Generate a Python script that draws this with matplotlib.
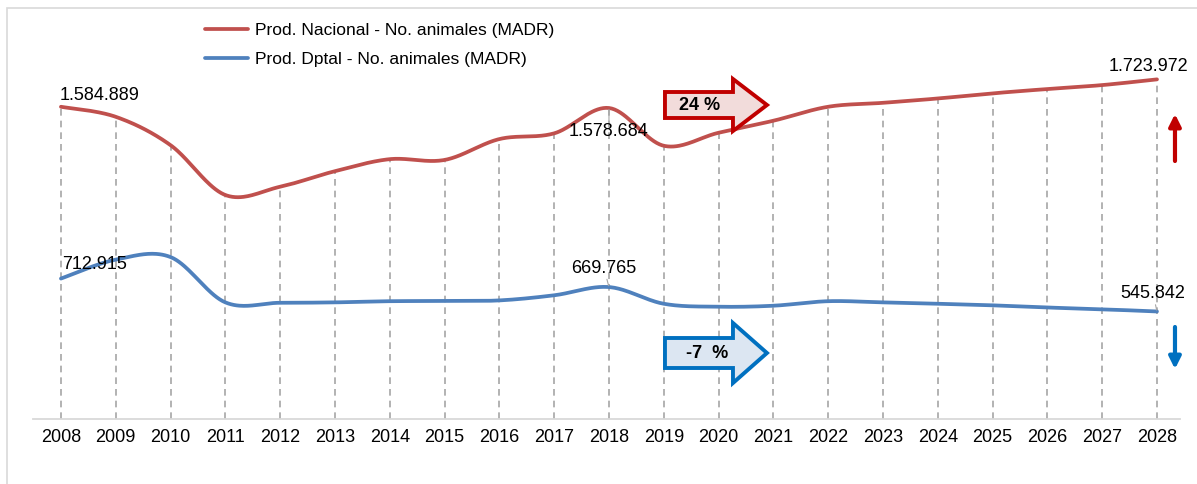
import numpy as np
import matplotlib.pyplot as plt
from matplotlib.patches import FancyArrow, Rectangle

plt.rcParams["font.family"] = ["Liberation Sans", "DejaVu Sans"]

years = list(range(2008, 2029))
nacional = [1584889, 1534000, 1390000, 1137000, 1179000, 1258000, 1319000,
            1315000, 1421000, 1450000, 1578684, 1387000, 1453000, 1514000,
            1585000, 1605000, 1627000, 1653000, 1675000, 1695000, 1723972]
dptal = [712915, 809000, 822000, 592000, 590000, 592000, 598000,
         599000, 602000, 628000, 669765, 585000, 570000, 575000,
         598000, 592000, 585000, 577000, 566000, 557000, 545842]
label_nac = "Prod. Nacional - No. animales (MADR)"
label_dpt = "Prod. Dptal - No. animales (MADR)"
red = "#c0504d"
blue = "#4f81bd"


def smooth(x, y, n=40):
    # Excel-like smoothed line (bezier, catmull-rom control points)
    x = np.asarray(x, float)
    y = np.asarray(y, float)
    t = np.linspace(0, 1, n)[:, None]
    pts = np.column_stack([x, y])
    out = []
    for i in range(len(pts) - 1):
        p0, p3 = pts[i], pts[i + 1]
        prev = pts[i - 1] if i > 0 else pts[i]
        nxt = pts[i + 2] if i + 2 < len(pts) else pts[i + 1]
        c1 = p0 + (p3 - prev) / 6
        c2 = p3 - (nxt - p0) / 6
        seg = ((1 - t) ** 3) * p0 + 3 * ((1 - t) ** 2) * t * c1 \
            + 3 * (1 - t) * t ** 2 * c2 + t ** 3 * p3
        out.append(seg if i == 0 else seg[1:])
    out = np.vstack(out)
    return out[:, 0], out[:, 1]


fig = plt.figure(figsize=(11.97, 4.84), dpi=100)
ax = fig.add_axes([33 / 1197, 65 / 484, (1180 - 33) / 1197, (419 - 25) / 484])

# drop lines
tops = np.maximum(nacional, dptal)
ax.vlines(years, 0, tops, colors="#a6a6a6", linestyles=(0, (4, 3)), lw=1.2, zorder=1)

sx, sy = smooth(years, nacional)
ax.plot(sx, sy, color=red, lw=2.7, solid_capstyle="round", label=label_nac, zorder=3)
sx, sy = smooth(years, dptal)
ax.plot(sx, sy, color=blue, lw=2.7, solid_capstyle="round", label=label_dpt, zorder=3)

ax.set_xlim(2007.49, 2028.42)
ax.set_ylim(0, 2000000)
ax.set_xticks(years)
ax.set_xticklabels([str(y) for y in years], fontsize=13)
ax.tick_params(axis="x", length=0, pad=7)
ax.set_yticks([])
for s in ["left", "right", "top"]:
    ax.spines[s].set_visible(False)
ax.spines["bottom"].set_color("#d9d9d9")
ax.spines["bottom"].set_linewidth(1.3)

# data labels
lead = dict(arrowstyle="-", color="#a6a6a6", lw=0.8, shrinkA=0, shrinkB=1)
labels = [
    (0, nacional, (39, 11), False),
    (20, nacional, (-9, 13), False),
    (10, nacional, (0, -24), True),
    (0, dptal, (34, 14), False),
    (10, dptal, (-5, 19), True),
    (20, dptal, (-4, 18), True),
]
for i, serie, off, leader in labels:
    txt = f"{serie[i]:,}".replace(",", ".")
    ax.annotate(txt, (years[i], serie[i]), xytext=off, textcoords="offset pixels",
                ha="center", va="center", fontsize=13, color="black", zorder=5,
                arrowprops=lead if leader else None)

# block arrows with percentages
x0 = 2008 + (665 - 61) / 54.8
length = (767 - 665) / 54.8
head = (767 - 733) / 54.8
px = 2000000 / 394
ax.add_patch(FancyArrow(x0, (419 - 105) * px, length, 0, width=26 * px,
                        head_width=52 * px, head_length=head,
                        length_includes_head=True, fc="#f2dcdb", ec="#c00000",
                        lw=2.8, zorder=6))
ax.text(x0 + 0.64, (419 - 105) * px, "24 %", ha="center", va="center",
        fontsize=13, fontweight="bold", zorder=7)
ax.add_patch(FancyArrow(x0, (419 - 353) * px, length, 0, width=30 * px,
                        head_width=60 * px, head_length=head,
                        length_includes_head=True, fc="#dce6f2", ec="#0070c0",
                        lw=2.8, zorder=6))
ax.text(x0 + 0.77, (419 - 353) * px, "-7  %", ha="center", va="center",
        fontsize=13, fontweight="bold", zorder=7)

# small trend arrows at the right
xr = 2008 + (1175 - 61) / 54.8
ax.annotate("", (xr, (419 - 114) * px), xytext=(xr, (419 - 161) * px),
            arrowprops=dict(arrowstyle="-|>,head_width=0.35,head_length=0.7",
                            color="#c00000", lw=3, shrinkA=0, shrinkB=0),
            annotation_clip=False)
ax.annotate("", (xr, (419 - 369) * px), xytext=(xr, (419 - 327) * px),
            arrowprops=dict(arrowstyle="-|>,head_width=0.35,head_length=0.7",
                            color="#0070c0", lw=3, shrinkA=0, shrinkB=0),
            annotation_clip=False)

leg = ax.legend(loc="upper left", bbox_to_anchor=(205 / 1197, 1 - 23 / 484),
                bbox_transform=fig.transFigure, frameon=False, fontsize=12.5,
                handlelength=2.5, handletextpad=0.4, labelspacing=0.8,
                borderpad=0, borderaxespad=0)

# outer chart border
fig.patches.append(Rectangle((7 / 1197, -0.1), 1.2, 1.1 - 8 / 484,
                             transform=fig.transFigure, fill=False,
                             ec="#d9d9d9", lw=1.2))

fig.savefig("out.png", dpi=100)
